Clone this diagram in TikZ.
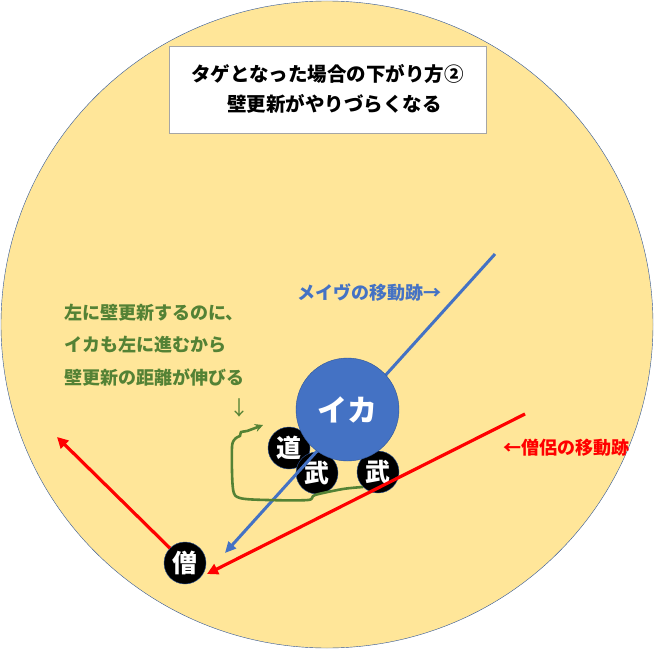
\documentclass[tikz,border=0pt]{standalone}
\usepackage{fontspec}
\newfontfamily\jp{Noto Sans CJK JP}
\usetikzlibrary{arrows.meta}
\definecolor{bgyellow}{HTML}{FFE699}
\definecolor{rimblue}{HTML}{2F5597}
\definecolor{mblue}{HTML}{4472C4}
\definecolor{sred}{HTML}{FF0000}
\definecolor{tgreen}{HTML}{548235}

\begin{document}
\begin{tikzpicture}[x=1pt, y=-1pt]
\tikzstyle{player}=[circle, fill=black, draw=rimblue, thin, minimum size=42pt, inner sep=0pt, text=white, font=\jp\bfseries\fontsize{25}{25}\selectfont]
\tikzstyle{note}=[inner sep=0pt, anchor=west, font=\jp\bfseries\fontsize{18}{18}\selectfont]
\useasboundingbox (0,0) rectangle (661,650);

% field
\draw[fill=bgyellow, draw=rimblue, thin] (327,324.5) ellipse (326 and 323.5);

% title
\node[draw=gray!70, fill=white, minimum width=317pt, minimum height=87pt] (title) at (327.5,89.5) {};
\node[inner sep=0pt, font=\jp\bfseries\fontsize{19.5}{19.5}\selectfont] (t1) at (327.5,74) {タゲとなった場合の下がり方②};
\node[inner sep=0pt, font=\jp\bfseries\fontsize{19.5}{19.5}\selectfont] (t2) at (334.5,104) {壁更新がやりづらくなる};

% players
\node[player] (michi) at (289,448) {道};
\node[player] (bu1) at (317,473) {武};
\node[player] (bu2) at (378,472) {武};
\node[player] (so) at (185,563) {僧};

% trails
\coordinate (mstart) at (495,254);
\coordinate (mend) at (225,553);
\coordinate (rstart) at (525,414);
\coordinate (rend) at (207,574);
\coordinate (rtip) at (57,437);
\draw[mblue, line width=3pt, -{Triangle[length=11pt, width=10pt]}] (mstart) -- (mend);
\draw[sred, line width=3.2pt, -{Triangle[length=11pt, width=11pt]}] (rstart) -- (rend);
\draw[sred, line width=3.2pt, -{Triangle[length=11pt, width=11pt]}] (so) -- (rtip);

% ika
\node[circle, fill=mblue, draw=rimblue, minimum size=103pt, inner sep=0pt, text=white, font=\jp\bfseries\fontsize{30}{30}\selectfont] (ika) at (347.5,409.5) {イカ};

% wall-update path
\draw[tgreen, line width=2.6pt, line join=round, -{Stealth[length=8pt, width=8pt]}]
  plot[smooth, tension=0.5] coordinates {(363,487) (343,489) (315,495) (308,500) (267,500) (240,498) (233,489) (232,447) (236,438) (240,436) (241,432) (247,431) (263,425)};

% labels
\node[note, text=tgreen] (n1) at (64,313) {左に壁更新するのに、};
\node[note, text=tgreen] (n2) at (64,345) {イカも左に進むから};
\node[note, text=tgreen] (n3) at (64,377) {壁更新の距離が伸びる};
\node[inner sep=0pt, text=tgreen, font=\jp\fontsize{20}{20}\selectfont] (down) at (239,408) {↓};
\node[note, text=mblue] (mlabel) at (297,293) {メイヴの移動跡→};
\node[note, text=sred] (rlabel) at (503,448) {←僧侶の移動跡};

\end{tikzpicture}
\end{document}
